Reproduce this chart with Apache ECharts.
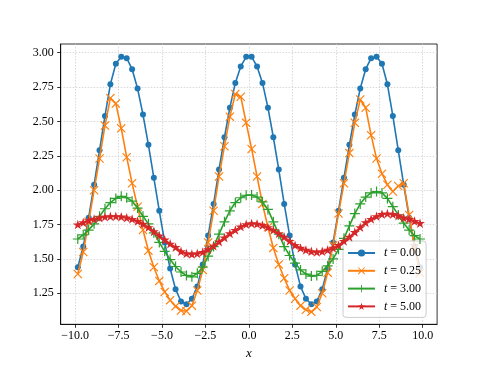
<!DOCTYPE html>
<html>
<head>
<meta charset="utf-8">
<script src="https://cdn.jsdelivr.net/npm/echarts@6/dist/echarts.min.js"></script>
<style>html,body{margin:0;padding:0;background:#fff}#c{width:486px;height:365px}</style>
</head>
<body>
<div id="c"></div>
<script>
// x grid (64 points)
const xs = [-9.844,-9.531,-9.219,-8.906,-8.594,-8.281,-7.969,-7.656,-7.344,-7.031,-6.719,-6.406,-6.094,-5.781,-5.469,-5.156,
-4.844,-4.531,-4.219,-3.906,-3.594,-3.281,-2.969,-2.656,-2.344,-2.031,-1.719,-1.406,-1.094,-0.781,-0.469,-0.156,
0.156,0.469,0.781,1.094,1.406,1.719,2.031,2.344,2.656,2.969,3.281,3.594,3.906,4.219,4.531,4.844,
5.156,5.469,5.781,6.094,6.406,6.719,7.031,7.344,7.656,7.969,8.281,8.594,8.906,9.219,9.531,9.844];

const seriesNames = ['t = 0.00','t = 0.25','t = 3.00','t = 5.00'];

const u_t000 = [1.44,1.59,1.80,2.04,2.29,2.54,2.77,2.92,2.97,2.96,2.88,2.74,2.55,2.33,2.09,1.85,
1.62,1.43,1.28,1.19,1.17,1.21,1.30,1.46,1.67,1.90,2.15,2.385,2.60,2.78,2.90,2.97,
2.97,2.90,2.78,2.60,2.385,2.15,1.90,1.67,1.46,1.30,1.21,1.17,1.19,1.28,1.43,1.62,
1.85,2.09,2.33,2.55,2.74,2.88,2.96,2.97,2.92,2.77,2.54,2.29,2.04,1.80,1.59,1.44];

const u_t025 = [1.39,1.55,1.77,2.00,2.23,2.47,2.67,2.63,2.45,2.24,2.05,1.88,1.71,1.56,1.44,1.34,
1.26,1.20,1.155,1.125,1.12,1.16,1.27,1.42,1.62,1.85,2.10,2.32,2.535,2.70,2.68,2.49,
2.30,2.10,1.90,1.73,1.58,1.46,1.36,1.27,1.21,1.16,1.13,1.115,1.15,1.25,1.40,1.60,
1.83,2.05,2.27,2.49,2.66,2.60,2.40,2.23,2.12,2.04,1.99,2.03,2.05,1.82,1.58,1.40];

const u_t300 = [1.645,1.675,1.71,1.755,1.81,1.865,1.91,1.94,1.955,1.945,1.92,1.87,1.81,1.755,1.69,1.62,
1.555,1.495,1.445,1.405,1.38,1.37,1.395,1.44,1.52,1.59,1.68,1.77,1.85,1.91,1.945,1.963,
1.965,1.95,1.915,1.86,1.77,1.68,1.59,1.525,1.47,1.42,1.39,1.375,1.38,1.41,1.45,1.50,
1.57,1.65,1.74,1.83,1.90,1.95,1.98,1.99,1.98,1.94,1.88,1.82,1.76,1.71,1.67,1.645];

const u_t500 = [1.75,1.765,1.78,1.79,1.80,1.806,1.81,1.81,1.807,1.80,1.79,1.775,1.755,1.73,1.70,1.67,
1.64,1.61,1.585,1.555,1.54,1.535,1.54,1.55,1.57,1.595,1.625,1.655,1.685,1.71,1.735,1.752,
1.758,1.755,1.745,1.73,1.71,1.685,1.66,1.63,1.60,1.58,1.565,1.555,1.55,1.555,1.565,1.58,
1.60,1.63,1.66,1.695,1.73,1.765,1.79,1.81,1.825,1.83,1.825,1.815,1.80,1.79,1.775,1.76];

const xTicks = [-10,-7.5,-5,-2.5,0,2.5,5,7.5,10];
const yTicks = [1.25,1.50,1.75,2.00,2.25,2.50,2.75,3.00];

const colors = ['#1f77b4','#ff7f0e','#2ca02c','#d62728'];
const SYM_X = 'path://M0,9 L9,0 L50,41 L91,0 L100,9 L59,50 L100,91 L91,100 L50,59 L9,100 L0,91 L41,50 Z';
const SYM_PLUS = 'path://M44,0 H56 V44 H100 V56 H56 V100 H44 V56 H0 V44 H44 Z';
const SYM_STAR = 'path://M50,0 L61.23,34.55 L97.55,34.55 L68.16,55.9 L79.4,90.45 L50,69.1 L20.6,90.45 L31.84,55.9 L2.45,34.55 L38.77,34.55 Z';
const symbols = ['circle', SYM_X, SYM_PLUS, SYM_STAR];
const symSizes = [6, 9, 10, 10];
const allY = [u_t000, u_t025, u_t300, u_t500];

const FONT = 'Liberation Serif';
const chart = echarts.init(document.getElementById('c'), null, {renderer:'canvas'});

const series = allY.map((ys, k) => ({
  name: seriesNames[k],
  type: 'line',
  data: xs.map((x, i) => [x, ys[i]]),
  symbol: symbols[k],
  symbolSize: symSizes[k],
  symbolKeepAspect: true,
  showSymbol: true,
  showAllSymbol: true,
  lineStyle: {color: colors[k], width: 1.6},
  itemStyle: {color: colors[k], borderWidth: 0},
  emphasis: {disabled: true},
  z: 2 + k
}));

const fmtX = v => (v < 0 ? '\u2212' : '') + Math.abs(v).toFixed(1);
const fmtY = v => v.toFixed(2);

chart.setOption({
  animation: false,
  backgroundColor: '#ffffff',
  grid: {left: 60.7, top: 44, width: 376.4, height: 280.3, show: true, borderColor: '#000', borderWidth: 0.8,
         backgroundColor: 'transparent', outerBoundsMode: 'none', containLabel: false},
  xAxis: {
    type: 'value', min: -10.828, max: 10.828,
    name: 'x', nameLocation: 'middle', nameGap: 22,
    nameTextStyle: {fontFamily: FONT, fontSize: 13, fontStyle: 'italic', color: '#000'},
    axisLine: {show: true, onZero: false, lineStyle: {color: '#000', width: 0.8}},
    axisTick: {show: true, length: 3.5, customValues: xTicks, lineStyle: {color: '#000', width: 0.8}},
    axisLabel: {customValues: xTicks, formatter: fmtX, margin: 6, fontFamily: FONT, fontSize: 12, color: '#000'},
    splitLine: {show: true, lineStyle: {color: '#cfcfcf', width: 0.8, type: [1.5, 1.5]}}
  },
  yAxis: {
    type: 'value', min: 1.0245, max: 3.0633,
    axisLine: {show: true, onZero: false, lineStyle: {color: '#000', width: 0.8}},
    axisTick: {show: true, length: 3.5, customValues: yTicks, lineStyle: {color: '#000', width: 0.8}},
    axisLabel: {customValues: yTicks, formatter: fmtY, margin: 7, fontFamily: FONT, fontSize: 12, color: '#000'},
    splitLine: {show: true, lineStyle: {color: '#cfcfcf', width: 0.8, type: [1.5, 1.5]}}
  },
  legend: {
    left: 343, top: 241, orient: 'vertical',
    data: seriesNames,
    itemWidth: 27, itemHeight: 9, itemGap: 3.8,
    padding: [5, 5, 4, 4],
    backgroundColor: 'rgba(255,255,255,0.8)',
    borderColor: '#cccccc', borderWidth: 1, borderRadius: 3,
    formatter: n => '{i|t}' + n.slice(1),
    textStyle: {fontFamily: FONT, fontSize: 12, color: '#000', lineHeight: 14, padding: [0,0,0,4],
      rich: {i: {fontFamily: FONT, fontSize: 12, fontStyle: 'italic', color: '#000'}}},
    selectedMode: false
  },
  series: series
});
</script>
</body>
</html>
